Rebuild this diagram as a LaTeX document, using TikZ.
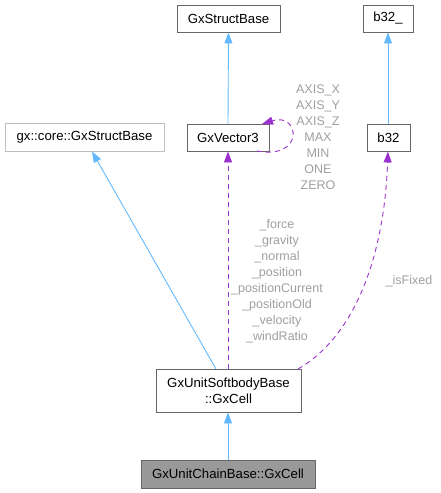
\documentclass[tikz,border=0pt]{standalone}
\usepackage{fontspec}
\setmainfont{Liberation Sans}
\usetikzlibrary{arrows.meta}
\definecolor{edgeblue}{HTML}{63B8FF}
\definecolor{edgepurple}{HTML}{9A32CD}
\definecolor{boxgray}{HTML}{666666}
\definecolor{lightbox}{HTML}{BFBFBF}
\definecolor{labelgray}{HTML}{9F9F9F}
\definecolor{targetfill}{HTML}{999999}
\tikzset{
  cls/.style={draw=boxgray, line width=0.9pt, fill=white, inner sep=0pt, align=center,
    font=\fontsize{13.2}{16}\selectfont, text=black},
  extcls/.style={cls, draw=lightbox},
  target/.style={cls, fill=targetfill},
  inh/.style={draw=edgeblue, line width=0.9pt, -{Triangle[length=11pt,width=8pt,fill=edgeblue]}},
  use/.style={draw=edgepurple, line width=0.9pt, dash pattern=on 5pt off 4pt,
    -{Triangle[length=11pt,width=8pt,fill=edgepurple]}},
  elabel/.style={text=labelgray, align=center, font=\fontsize{12.5}{15.95}\selectfont, inner sep=0pt}
}
\begin{document}
\begin{tikzpicture}[x=1pt,y=-1pt]
\useasboundingbox (0,0) rectangle (440,493);
\node[cls, minimum width=103pt, minimum height=27pt] (gsb) at (228.5,18.5) {GxStructBase};
\node[cls, minimum width=50pt, minimum height=27pt] (b32u) at (388,18.5) {b32\_};
\node[cls, minimum width=82pt, minimum height=27pt] (v3) at (228,137.5) {GxVector3};
\node[cls, minimum width=43pt, minimum height=27pt] (b32) at (388.5,137.5) {b32};
\node[extcls, minimum width=159pt, minimum height=28pt] (core) at (84.5,137) {gx::core::GxStructBase};
\node[cls, minimum width=145pt, minimum height=43pt] (soft) at (228.5,390.5) {GxUnitSoftbodyBase\\::GxCell};
\node[target, minimum width=174pt, minimum height=28pt] (chain) at (228,474) {GxUnitChainBase::GxCell};

\draw[inh] (v3.north) -- (gsb.south);
\draw[inh] (b32.north -| b32u.south) -- (b32u.south);
\draw[inh] (chain.north) -- (chain.north |- soft.south);
\coordinate (softcore) at (216,369);
\coordinate (coretip) at (92,151.5);
\draw[inh] (softcore) -- (coretip);

\coordinate (softv3) at (228,369);
\draw[use] (softv3) -- (v3.south);
\coordinate (softb32) at (298,369);
\coordinate (b32tip) at (388,151.5);
\draw[use] (softb32) .. controls (352,338) and (384,262) .. (b32tip);
\coordinate (loopstart) at (257,151);
\coordinate (looptip) at (262,124);
\draw[use] (loopstart) .. controls (305,160) and (300,112) .. (looptip);

\node[elabel] (lv3) at (318,137) {AXIS\_X\\AXIS\_Y\\AXIS\_Z\\MAX\\MIN\\ONE\\ZERO};
\node[elabel] (lsoft) at (277,281.5) {\_force\\\_gravity\\\_normal\\\_position\\\_positionCurrent\\\_positionOld\\\_velocity\\\_windRatio};
\node[elabel] (lfix) at (409,281) {\_isFixed};
\end{tikzpicture}
\end{document}
